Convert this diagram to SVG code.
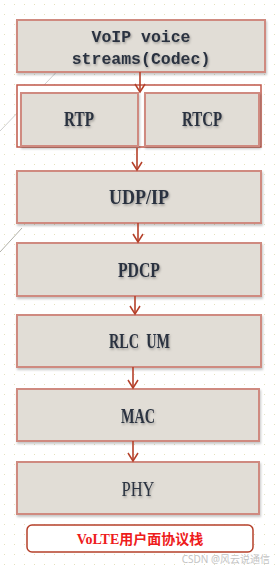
<svg xmlns="http://www.w3.org/2000/svg" width="275" height="571" viewBox="0 0 275 571">
<defs>
<pattern id="dots" width="10" height="10" patternUnits="userSpaceOnUse">
<rect x="4" y="4" width="1" height="1" fill="#e8e2b8"/>
</pattern>
<filter id="sh" x="-5%" y="-10%" width="115%" height="130%">
<feDropShadow dx="1" dy="2" stdDeviation="1.2" flood-color="#000" flood-opacity="0.22"/>
</filter>
<filter id="tsh" x="-10%" y="-20%" width="130%" height="150%">
<feDropShadow dx="1" dy="1.5" stdDeviation="0.8" flood-color="#000" flood-opacity="0.3"/>
</filter>
<marker id="arr" markerWidth="12" markerHeight="12" refX="10" refY="6" orient="auto" markerUnits="userSpaceOnUse" viewBox="0 0 12 12">
<path d="M2,1 L10,6 L2,11" fill="none" stroke="#b5402a" stroke-width="1.5"/>
</marker>
<style>
.box{fill:#e1ddd6;stroke:#cf8a80;stroke-width:2;filter:url(#sh)}
.lbl{font-family:"Liberation Serif","DejaVu Serif",serif;font-size:20px;font-weight:bold;fill:#2b3340;text-anchor:middle;filter:url(#tsh)}
.mono{font-family:"Liberation Mono","DejaVu Sans Mono",monospace;font-size:16.5px;font-weight:bold;fill:#2b3340;text-anchor:middle;filter:url(#tsh)}
.conn{stroke:#b5402a;stroke-width:1.6;fill:none;marker-end:url(#arr)}
</style>
</defs>
<rect width="275" height="571" fill="#ffffff"/>
<rect width="275" height="571" fill="url(#dots)"/>
<line x1="0" y1="131" x2="68" y2="60" stroke="#cfcfcf" stroke-width="1"/>
<line x1="0" y1="252" x2="22" y2="228" stroke="#b0b0a8" stroke-width="1"/>

<g id="voip">
<rect class="box" x="17" y="20" width="248" height="52"/>
<text class="mono" x="141" y="42">VoIP voice</text>
<text class="mono" x="141" y="64">streams(Codec)</text>
</g>
<g id="rtp-group">
<rect x="17" y="85" width="244" height="62" fill="#ffffff" stroke="#c0584a" stroke-width="1.5"/>
</g>
<g id="rtp">
<rect class="box" x="21" y="93" width="117" height="53"/>
<text class="lbl" x="79" y="126" textLength="30" lengthAdjust="spacingAndGlyphs">RTP</text>
</g>
<g id="rtcp">
<rect class="box" x="145" y="93" width="114" height="53"/>
<text class="lbl" x="202" y="126" textLength="40" lengthAdjust="spacingAndGlyphs">RTCP</text>
</g>
<g id="udpip">
<rect class="box" x="17" y="171" width="244" height="52"/>
<text class="lbl" x="139" y="204" textLength="60" lengthAdjust="spacingAndGlyphs">UDP/IP</text>
</g>
<g id="pdcp">
<rect class="box" x="17" y="243" width="244" height="53"/>
<text class="lbl" x="139" y="277" textLength="42" lengthAdjust="spacingAndGlyphs">PDCP</text>
</g>
<g id="rlcum">
<rect class="box" x="17" y="315" width="244" height="52"/>
<text class="lbl" x="139.5" y="348" textLength="61" lengthAdjust="spacingAndGlyphs" xml:space="preserve">RLC  UM</text>
</g>
<g id="mac">
<rect class="box" x="17" y="389" width="242" height="52"/>
<text class="lbl" x="138" y="423" textLength="34" lengthAdjust="spacingAndGlyphs">MAC</text>
</g>
<g id="phy">
<rect class="box" x="17" y="462" width="242" height="52"/>
<text class="lbl" x="138" y="496" textLength="33" lengthAdjust="spacingAndGlyphs" style="font-size:22px;font-weight:normal">PHY</text>
</g>
<g id="caption">
<rect x="27" y="525" width="226" height="27" rx="5" fill="#ffffff" stroke="#b5402a" stroke-width="1.5"/>
<text x="140" y="544" text-anchor="middle" font-family="'Liberation Serif','Noto Sans CJK SC',serif" font-size="14" font-weight="bold" fill="#ee1c1c">VoLTE用户面协议栈</text>
</g>
<g id="connectors">
<line class="conn" x1="140" y1="72" x2="140" y2="92"/>
<line class="conn" x1="137" y1="148" x2="137" y2="170"/>
<line class="conn" x1="138" y1="223" x2="138" y2="242"/>
<line class="conn" x1="135" y1="296" x2="135" y2="314"/>
<line class="conn" x1="133" y1="367" x2="133" y2="388"/>
<line class="conn" x1="133" y1="441" x2="133" y2="461"/>
</g>
<text x="270" y="563" text-anchor="end" font-family="'Noto Sans','Noto Sans CJK SC',sans-serif" font-size="10" fill="#c4c4c4">CSDN @风云说通信</text>
</svg>
